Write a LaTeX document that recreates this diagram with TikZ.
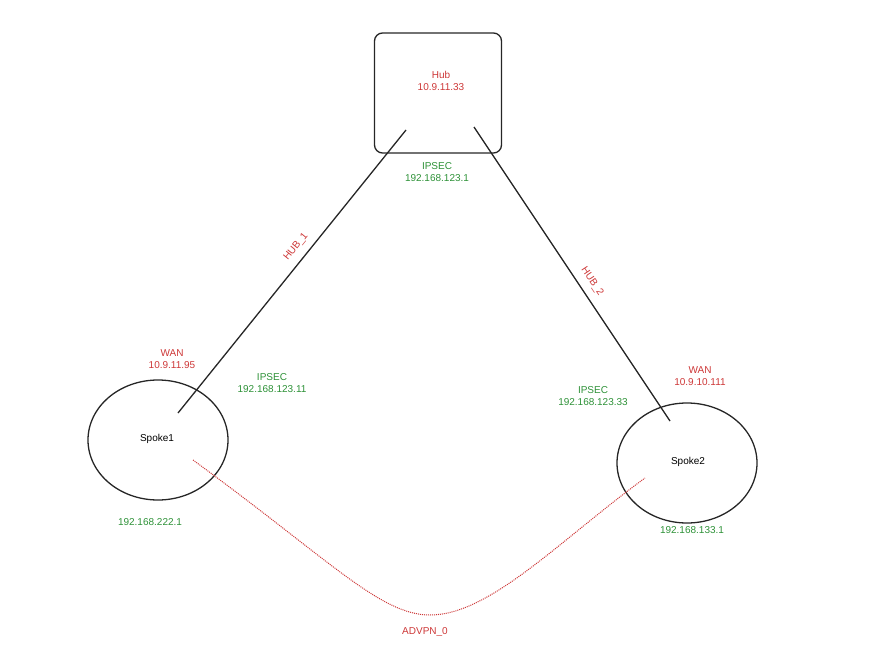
\documentclass[tikz,border=0pt]{standalone}
\usepackage{fontspec}
\setmainfont{Liberation Sans}
\usetikzlibrary{positioning,shapes.geometric}
\definecolor{lblred}{RGB}{205,55,55}
\definecolor{lblgreen}{RGB}{45,145,55}
\begin{document}
\begin{tikzpicture}[
        x=1pt, y=-1pt,
        font=\normalsize,
        % styles
        hubbox/.style={rectangle, draw=black!85, line width=1.3pt, rounded corners=8pt,
            minimum width=127pt, minimum height=120pt},
        spoke/.style={ellipse, draw=black!85, line width=1.3pt,
            minimum width=140pt, minimum height=120pt},
        wan/.style={text=lblred, align=center, font=\normalsize},
        lan/.style={text=lblgreen, align=center, font=\normalsize},
        tunnel/.style={line width=1.3pt, black!85},
        shortcut/.style={densely dotted, line width=1pt, lblred}
    ]
    \useasboundingbox (0,0) rectangle (882,652);

    % Hub
    \node[hubbox] (hub) at (438,93) {};
    \node[wan] (hubwan) at (441,81) {Hub\\10.9.11.33};
    \node[lan] (hubip) at (437,172) {IPSEC\\192.168.123.1};

    % Spokes
    \node[spoke] (sp1) at (158,440) {};
    \node (sp1name) at (157,439) {Spoke1};
    \node[wan] (sp1wan) at (172,359) {WAN\\10.9.11.95};
    \node[lan] (sp1ip) at (272,383) {IPSEC\\192.168.123.11};
    \node[lan] (sp1lan) at (150,522) {192.168.222.1};

    \node[spoke] (sp2) at (687,463) {};
    \node (sp2name) at (688,462) {Spoke2};
    \node[wan] (sp2wan) at (700,376) {WAN\\10.9.10.111};
    \node[lan] (sp2ip) at (593,396) {IPSEC\\192.168.123.33};
    \node[lan] (sp2lan) at (692,530) {192.168.133.1};

    % Tunnel end points
    \coordinate (h1) at (406,130);
    \coordinate (h2) at (474,127);
    \coordinate (s1) at (178,413);
    \coordinate (s2) at (670,421);
    \coordinate (a1) at (193,460);
    \coordinate (a2) at (645,478);

    % Connections
    \draw[tunnel] (h1) -- node[wan, sloped, above=4pt, pos=0.44] {HUB\_1} (s1);
    \draw[tunnel] (h2) -- node[wan, sloped, above=4pt, pos=0.55] {HUB\_2} (s2);
    \draw[shortcut] (a1) .. controls (330,560) and (380,615) .. (430,615)
        .. controls (490,615) and (560,540) .. (a2);
    \node[wan] (advpn) at (425,632) {ADVPN\_0};
\end{tikzpicture}
\end{document}
